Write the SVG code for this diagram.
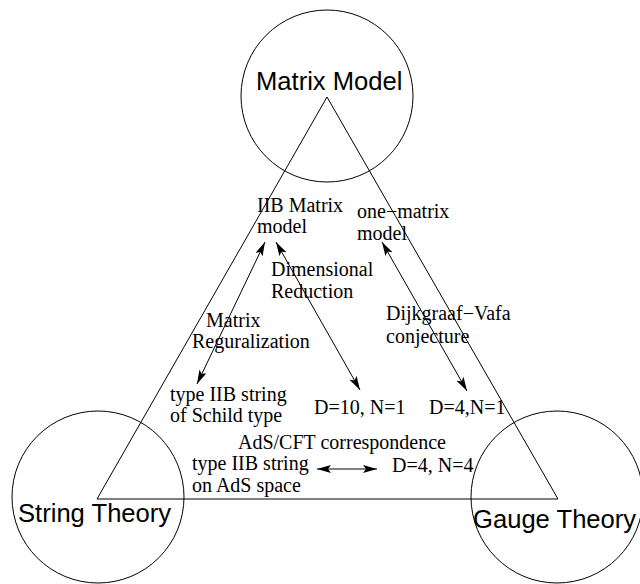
<svg xmlns="http://www.w3.org/2000/svg" width="640" height="584" viewBox="0 0 640 584">
<style>
.c{fill:none;stroke:#000;stroke-width:1}
.s{font-family:"Liberation Sans",Arial,sans-serif;font-size:25.6px;fill:#000}
.t{font-family:"Liberation Serif","Times New Roman",serif;font-size:20px;fill:#000}
.a{stroke:#000;stroke-width:1;fill:none;marker-start:url(#h);marker-end:url(#h)}
</style>
<defs>
<marker id="h" viewBox="0 0 14 8" refX="14" refY="4" markerWidth="14" markerHeight="8" markerUnits="userSpaceOnUse" orient="auto-start-reverse">
<path d="M0,0 L14,4 L0,8 L3,4 Z" fill="#000"/>
</marker>
</defs>
<rect width="640" height="584" fill="#fff"/>
<g id="triangle">
<path d="M327,97 L97,499 L558,499 Z" class="c"/>
</g>
<g id="matrix-model">
<circle cx="327" cy="96" r="86" class="c"/>
<text x="256" y="90" class="s">Matrix Model</text>
</g>
<g id="string-theory">
<circle cx="98" cy="497" r="86" class="c"/>
<text x="18" y="522" class="s">String Theory</text>
</g>
<g id="gauge-theory">
<circle cx="557" cy="497" r="86" class="c"/>
<text x="473" y="528" class="s">Gauge Theory</text>
</g>
<g id="iib-matrix">
<text x="257" y="212" class="t">IIB Matrix</text>
<text x="257" y="233" class="t">model</text>
</g>
<g id="one-matrix">
<text x="357" y="218" class="t">one−matrix</text>
<text x="357" y="240" class="t">model</text>
</g>
<g id="schild">
<text x="170" y="401" class="t">type IIB string</text>
<text x="170" y="422" class="t">of Schild type</text>
</g>
<g id="d10n1">
<text x="314" y="414" class="t">D=10, N=1</text>
</g>
<g id="d4n1">
<text x="429" y="414" class="t">D=4,N=1</text>
</g>
<g id="ads">
<text x="192" y="470" class="t">type IIB string</text>
<text x="192" y="492" class="t">on AdS space</text>
</g>
<g id="d4n4">
<text x="392" y="472" class="t">D=4, N=4</text>
</g>
<g id="connectors">
<line x1="265" y1="242" x2="197" y2="384" class="a"/>
<line x1="276" y1="242" x2="360" y2="390" class="a"/>
<line x1="382" y1="242" x2="467" y2="391" class="a"/>
<line x1="317" y1="469" x2="377" y2="469" class="a"/>
<text x="271" y="276" class="t">Dimensional</text>
<text x="271" y="298" class="t">Reduction</text>
<text x="206" y="327" class="t">Matrix</text>
<text x="192" y="348" class="t">Reguralization</text>
<text x="386" y="320" class="t">Dijkgraaf−Vafa</text>
<text x="386" y="343" class="t">conjecture</text>
<text x="238" y="449" class="t">AdS/CFT correspondence</text>
</g>
</svg>
